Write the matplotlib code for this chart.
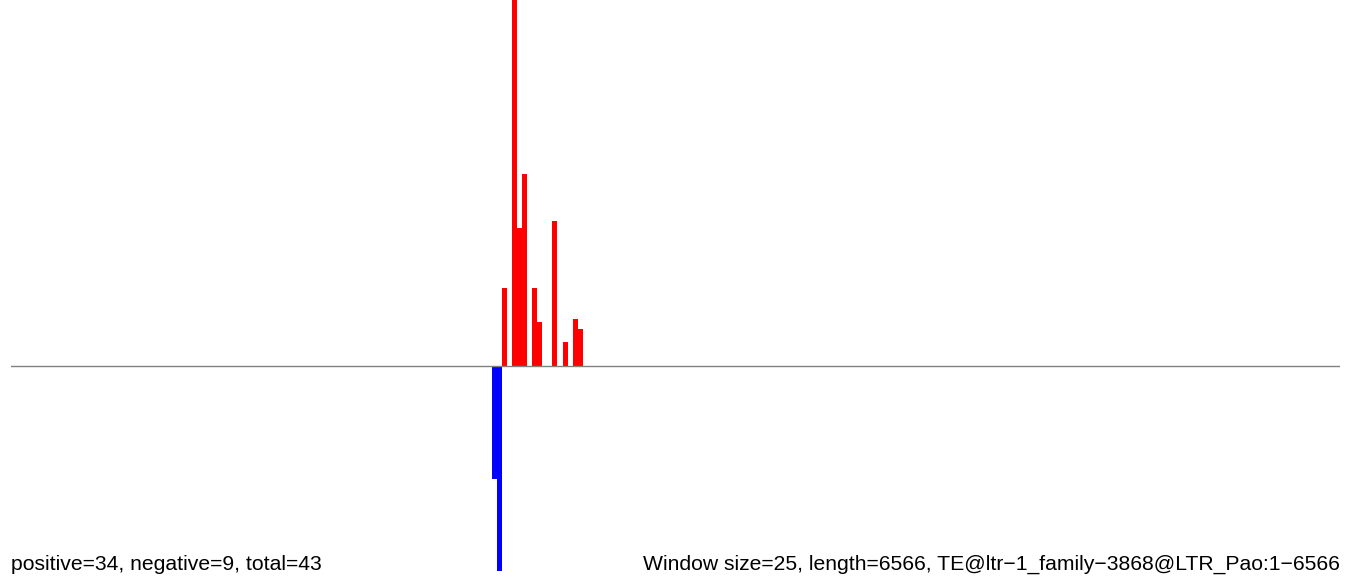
import matplotlib.pyplot as plt
import numpy as np

plt.rcParams['font.family'] = ['Liberation Sans', 'DejaVu Sans']

# window size / sequence length
WIN = 25
LENGTH = 6566

# window index -> signal (positive strand hits)
pos_win = [97, 99, 100, 101, 103, 104, 107, 109, 111, 112]
pos_val = [78, 370, 138, 192, 78, 44, 145, 24, 47, 37]

# window index -> signal (negative strand hits)
neg_win = [95, 96]
neg_val = [113, 205]

left_label = "positive=34, negative=9, total=43"
right_label = "Window size=25, length=6566, TE@ltr\u22121_family\u22123868@LTR_Pao:1\u22126566"

fig = plt.figure(figsize=(13.52, 5.77), dpi=100)
ax = fig.add_axes([11 / 1352, 0, 1329 / 1352, 1])

ax.bar(np.array(pos_win) * WIN, pos_val, width=WIN, align='edge', color='red', linewidth=0)
ax.bar(np.array(neg_win) * WIN, [-v for v in neg_val], width=WIN, align='edge', color='blue', linewidth=0)
ax.axhline(0, color='#808080', linewidth=1)

ax.set_xlim(0, LENGTH)
ax.set_ylim(-211, 366)
ax.axis('off')

fig.text(11 / 1352, 7 / 577, left_label, ha='left', va='baseline', fontsize=15.2)
fig.text(1340 / 1352, 7 / 577, right_label, ha='right', va='baseline', fontsize=15.2)

fig.savefig('out.png', dpi=100)
